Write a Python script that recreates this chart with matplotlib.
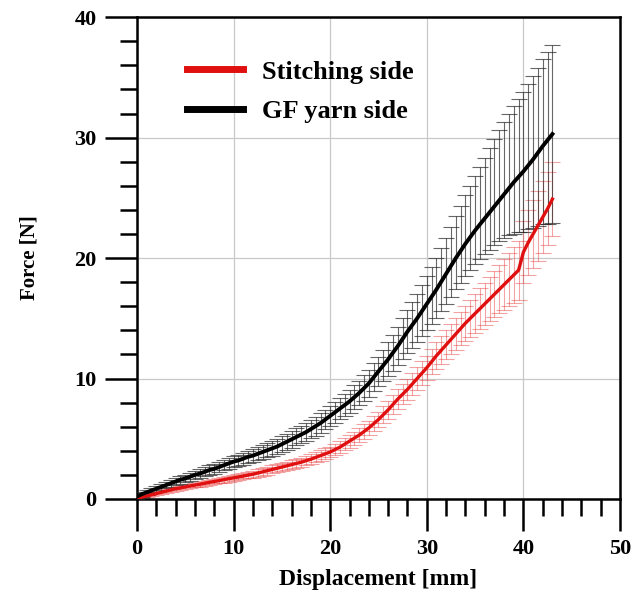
import numpy as np
import matplotlib
matplotlib.use("Agg")
from matplotlib import pyplot as plt
from matplotlib.ticker import MultipleLocator

plt.rcParams['font.family'] = 'Liberation Serif'
plt.rcParams['font.weight'] = 'bold'

# displacement [mm]
disp = [0.0, 0.5, 1.0, 1.5, 2.0, 2.5, 3.0, 3.5, 4.0, 4.5, 5.0, 5.5, 6.0, 6.5, 7.0, 7.5,
        8.0, 8.5, 9.0, 9.5, 10.0, 10.5, 11.0, 11.5, 12.0, 12.5, 13.0, 13.5, 14.0, 14.5,
        15.0, 15.5, 16.0, 16.5, 17.0, 17.5, 18.0, 18.5, 19.0, 19.5, 20.0, 20.5, 21.0, 21.5,
        22.0, 22.5, 23.0, 23.5, 24.0, 24.5, 25.0, 25.5, 26.0, 26.5, 27.0, 27.5, 28.0, 28.5,
        29.0, 29.5, 30.0, 30.5, 31.0, 31.5, 32.0, 32.5, 33.0, 33.5, 34.0, 34.5, 35.0, 35.5,
        36.0, 36.5, 37.0, 37.5, 38.0, 38.5, 39.0, 39.5, 40.0, 40.5, 41.0, 41.5, 42.0, 42.5,
        43.0]

# GF yarn side - mean force [N]
gf_mean = [0.2, 0.4, 0.55, 0.7, 0.85, 1.0, 1.15, 1.3, 1.45, 1.6, 1.7, 1.85, 2.0, 2.1, 2.25, 2.4,
           2.5, 2.65, 2.8, 2.95, 3.1, 3.2, 3.35, 3.5, 3.6, 3.75, 3.9, 4.05, 4.2, 4.35,
           4.55, 4.75, 4.95, 5.15, 5.35, 5.55, 5.8, 6.05, 6.3, 6.6, 6.9, 7.2, 7.5, 7.8,
           8.1, 8.45, 8.8, 9.2, 9.6, 10.1, 10.6, 11.1, 11.6, 12.15, 12.7, 13.3, 13.9, 14.45,
           15.0, 15.6, 16.2, 16.8, 17.4, 18.05, 18.7, 19.35, 20.0, 20.6, 21.2, 21.75, 22.3, 22.8,
           23.3, 23.8, 24.3, 24.8, 25.3, 25.8, 26.3, 26.75, 27.2, 27.7, 28.2, 28.75, 29.3, 29.8,
           30.3]
gf_err_low = [0.2, 0.2, 0.22, 0.23, 0.25, 0.26, 0.28, 0.29, 0.3, 0.32, 0.33, 0.34, 0.36, 0.37, 0.38, 0.4,
              0.41, 0.42, 0.43, 0.44, 0.45, 0.47, 0.49, 0.51, 0.53, 0.55, 0.57, 0.59, 0.61, 0.63,
              0.65, 0.67, 0.69, 0.71, 0.73, 0.75, 0.77, 0.79, 0.8, 0.82, 0.85, 0.88, 0.9, 0.93,
              0.96, 1.0, 1.03, 1.06, 1.1, 1.15, 1.2, 1.3, 1.4, 1.5, 1.6, 1.7, 1.8, 1.9,
              2.0, 2.1, 2.2, 2.3, 2.4, 2.45, 2.5, 2.55, 2.6, 2.65, 2.7, 2.75, 2.8, 2.9,
              3.0, 3.1, 3.2, 3.4, 3.6, 3.9, 4.3, 4.6, 5.0, 5.3, 5.7, 6.1, 6.5, 7.0,
              7.4]
gf_err_high = [0.2, 0.2, 0.22, 0.23, 0.25, 0.26, 0.28, 0.29, 0.3, 0.32, 0.33, 0.34, 0.36, 0.37, 0.38, 0.4,
               0.41, 0.42, 0.43, 0.44, 0.45, 0.47, 0.49, 0.51, 0.53, 0.55, 0.57, 0.59, 0.61, 0.63,
               0.65, 0.67, 0.69, 0.71, 0.73, 0.75, 0.77, 0.79, 0.8, 0.82, 0.85, 0.88, 0.9, 0.93,
               0.96, 1.0, 1.03, 1.06, 1.1, 1.15, 1.2, 1.3, 1.4, 1.5, 1.6, 1.7, 1.8, 1.9,
               2.0, 2.15, 2.3, 2.45, 2.6, 2.8, 3.0, 3.25, 3.5, 3.75, 4.0, 4.25, 4.5, 4.75,
               5.0, 5.3, 5.6, 5.8, 6.0, 6.15, 6.3, 6.45, 6.6, 6.75, 6.9, 7.05, 7.2, 7.3,
               7.4]

# Stitching side - mean force [N]
st_mean = [0.0, 0.15, 0.25, 0.35, 0.45, 0.55, 0.65, 0.75, 0.85, 0.92, 1.0, 1.08, 1.15, 1.22, 1.3, 1.38,
           1.45, 1.52, 1.6, 1.68, 1.75, 1.82, 1.9, 1.98, 2.05, 2.15, 2.25, 2.35, 2.45, 2.55,
           2.65, 2.75, 2.85, 2.95, 3.05, 3.18, 3.3, 3.45, 3.6, 3.75, 3.9, 4.1, 4.3, 4.55,
           4.8, 5.05, 5.3, 5.6, 5.9, 6.25, 6.6, 7.0, 7.4, 7.85, 8.3, 8.7, 9.1, 9.55,
           10.0, 10.45, 10.9, 11.4, 11.9, 12.35, 12.8, 13.25, 13.7, 14.15, 14.6, 15.0, 15.4, 15.8,
           16.2, 16.6, 17.0, 17.4, 17.8, 18.2, 18.6, 19.0, 20.5, 21.3, 22.0, 22.7, 23.4, 24.1,
           24.9]
st_err = [0.1, 0.1, 0.11, 0.12, 0.13, 0.13, 0.14, 0.15, 0.16, 0.17, 0.17, 0.18, 0.19, 0.2, 0.21, 0.22,
          0.22, 0.23, 0.24, 0.25, 0.25, 0.26, 0.27, 0.28, 0.29, 0.3, 0.31, 0.32, 0.33, 0.34,
          0.35, 0.36, 0.37, 0.38, 0.39, 0.4, 0.41, 0.42, 0.43, 0.44, 0.45, 0.47, 0.49, 0.51,
          0.53, 0.55, 0.57, 0.59, 0.61, 0.63, 0.65, 0.69, 0.72, 0.76, 0.79, 0.83, 0.86, 0.9,
          0.93, 0.97, 1.0, 1.05, 1.1, 1.15, 1.2, 1.25, 1.3, 1.38, 1.45, 1.52, 1.6, 1.68,
          1.75, 1.82, 1.9, 2.0, 2.1, 2.2, 2.3, 2.45, 2.6, 2.7, 2.8, 2.9, 3.0, 3.05,
          3.1]

x = np.array(disp)
gf = np.array(gf_mean)
st = np.array(st_mean)

fig = plt.figure(figsize=(6.34, 5.94), dpi=100)
ax = fig.add_axes([0.216, 0.160, 0.762, 0.811])

# error bars first, mean curves on top
ax.errorbar(x, st, yerr=st_err, fmt='none', ecolor=(0.9, 0.2, 0.2, 0.45),
            elinewidth=0.8, capsize=5.5, capthick=0.8, zorder=2)
ax.errorbar(x, gf, yerr=[gf_err_low, gf_err_high], fmt='none', ecolor=(0.15, 0.15, 0.15, 0.7),
            elinewidth=0.8, capsize=5.5, capthick=0.8, zorder=3)
ax.plot(x, st, color='#e01010', lw=2.4, zorder=4, label='Stitching side')
ax.plot(x, gf, color='black', lw=2.8, zorder=5, label='GF yarn side')

ax.set_xlim(0, 50)
ax.set_ylim(0, 40)
ax.xaxis.set_major_locator(MultipleLocator(10))
ax.xaxis.set_minor_locator(MultipleLocator(2))
ax.yaxis.set_major_locator(MultipleLocator(10))
ax.yaxis.set_minor_locator(MultipleLocator(2))
ax.grid(True, which='major', color='#c8c8c8', lw=0.9)
ax.set_axisbelow(True)

for s in ax.spines.values():
    s.set_linewidth(1.8)
ax.tick_params(which='major', direction='out', length=23, width=1.8, labelsize=16, pad=6)
ax.tick_params(which='minor', direction='out', length=12, width=1.8)
ax.tick_params(axis='x', which='major', pad=6)
for lab in ax.get_xticklabels() + ax.get_yticklabels():
    lab.set_fontweight('bold')

ax.set_xlabel('Displacement [mm]', fontsize=17, fontweight='bold', labelpad=7)
ax.set_ylabel('Force [N]', fontsize=15, fontweight='bold', labelpad=25)

leg = ax.legend(loc='upper left', bbox_to_anchor=(0.055, 0.96), frameon=False,
                prop={'weight': 'bold', 'size': 19}, handlelength=2.1,
                handletextpad=0.75, labelspacing=0.6)
for ln in leg.get_lines():
    ln.set_linewidth(5)

fig.savefig('out.png', dpi=100)
